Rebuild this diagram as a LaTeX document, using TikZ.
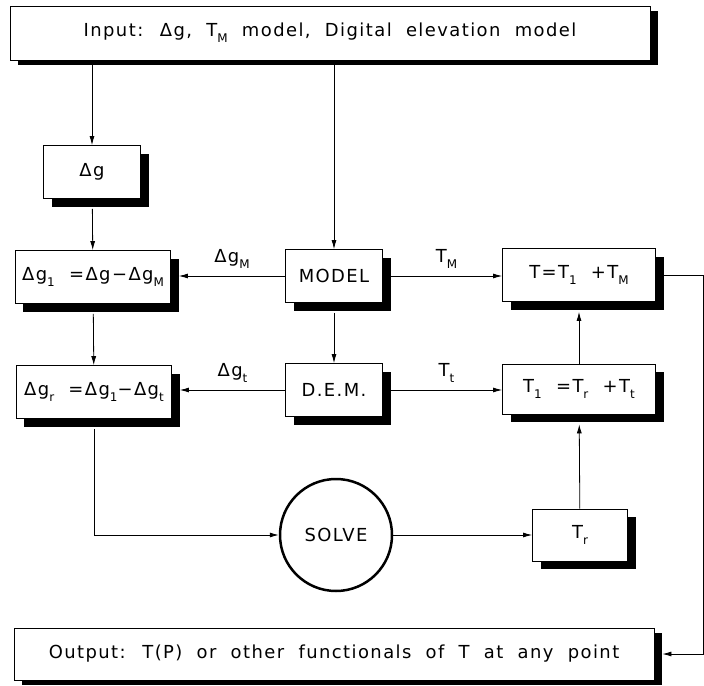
\documentclass[tikz,border=0pt]{standalone}
\usepackage{fontspec}
\setmainfont{DejaVu Sans}[LetterSpace=8.0,WordSpace=2]
\usetikzlibrary{arrows.meta,shadows}
\newcommand{\dn}[1]{\raisebox{-6bp}{\fontsize{12}{12}\selectfont #1}}

\begin{document}
\begin{tikzpicture}[x=1bp,y=-1bp,font=\fontsize{18}{20}\selectfont,line width=0.8bp,>={Latex[length=9bp,width=5bp]},
  base/.style={draw,fill=white,inner sep=0pt},
  box/.style={base,minimum width=97bp,minimum height=53bp,drop shadow={shadow xshift=8bp,shadow yshift=-8bp,fill=black,opacity=1}},
  eqbox/.style={box,minimum width=155bp},
  iobox/.style={base,minimum width=640bp,minimum height=54bp,drop shadow={shadow xshift=8bp,shadow yshift=-5bp,fill=black,opacity=1}},
  solver/.style={base,circle,line width=2.5bp,minimum size=112bp},
  lbl/.style={above=4bp,midway}]
\useasboundingbox (0,0) rectangle (704,686);
% input and first column
\node[iobox] (inp) at (330,33) {Input: Δg, T\dn{M} model, Digital elevation model};
\node[box] (dg) at (92,172) {Δg};
\node[eqbox] (dg1) at (93,277) {Δg\dn{1} =Δg−Δg\dn{M}};
\node[eqbox] (dgr) at (94,392) {Δg\dn{r} =Δg\dn{1}−Δg\dn{t}};
% middle column
\node[box] (model) at (334,276) {MODEL};
\node[box] (dem) at (334,390) {D.E.M.};
\node[solver] (solve) at (336,535) {SOLVE};
% right column
\node[eqbox,minimum width=153bp] (tt) at (579,275) {T=T\dn{1} +T\dn{M}};
\node[eqbox,minimum width=153bp,minimum height=50bp] (t1) at (579,389) {T\dn{1} =T\dn{r} +T\dn{t}};
\node[box,minimum width=95bp,minimum height=52bp] (tr) at (580,535) {T\dn{r}};
% output
\node[iobox,minimum height=52bp] (out) at (334,654) {Output: T(P) or other functionals of T at any point};
\coordinate (corner) at (703,275);
% connectors
\draw[->,shorten <=5bp] (dg.north |- inp.south) -- (dg.north);
\draw[->,shorten <=5bp] (model.north |- inp.south) -- (model.north);
\draw[->,shorten <=10bp] (dg) -- (dg1);
\draw[->,shorten <=10bp] (dg1) -- (dgr);
\draw[->,shorten <=10bp] (model) -- (dem);
\draw[->] (model.west) -- ([xshift=8bp]model.west -| dg1.east) node[lbl] {Δg\dn{M}};
\draw[->] (dem.west) -- ([xshift=8bp]dem.west -| dgr.east) node[lbl] {Δg\dn{t}};
\draw[->] ([xshift=8bp]model.east) -- (model.east -| tt.west) node[lbl] {T\dn{M}};
\draw[->] ([xshift=8bp]dem.east) -- (dem.east -| t1.west) node[lbl] {T\dn{t}};
\draw[->,shorten <=10bp] (dgr.south) |- (solve.west);
\draw[->] (solve) -- (tr);
\draw[->,shorten >=10bp] (tr) -- (t1);
\draw[->,shorten >=10bp] (t1) -- (tt);
\draw[->] ([xshift=8bp]tt.east) -- (corner) |- ([xshift=8bp]out.east);
\end{tikzpicture}
\end{document}
